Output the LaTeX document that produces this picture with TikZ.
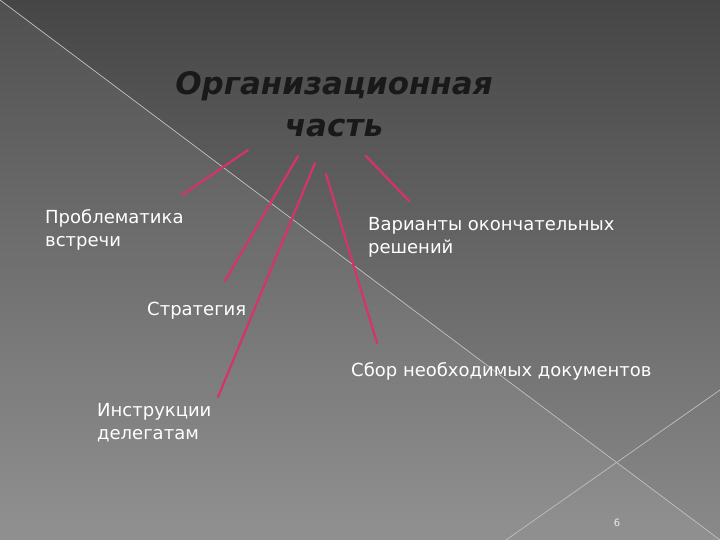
\documentclass[tikz,border=0pt]{standalone}
\usepackage{fontspec}
\setmainfont{DejaVu Sans}
\usetikzlibrary{positioning}
\definecolor{linkpink}{RGB}{214,50,110}
\definecolor{bgtop}{RGB}{70,70,70}
\definecolor{bgbottom}{RGB}{138,138,138}

\begin{document}
\begin{tikzpicture}[x=1pt,y=-1pt,
    item/.style={anchor=base west,inner sep=0pt,align=left,text=white,font=\fontsize{18}{23}\selectfont},
    link/.style={draw=linkpink,line width=2.2pt,line cap=round}]
  \useasboundingbox (0,0) rectangle (720,540);
  \shade[top color=bgtop,bottom color=bgbottom] (0,0) rectangle (720,540);
  \fill[white,opacity=0.06] (0,0) -- (720,540) -- (0,540) -- cycle;
  \draw[gray!50,line width=0.7pt] (0,0) -- (720,540);
  \draw[gray!50,line width=0.7pt] (720,390) -- (506,540);

  \node (title) [anchor=base,align=center,inner sep=0pt,text=black!90,
     font=\fontsize{31}{42}\selectfont\bfseries\itshape] at (334,137) {Организационная\\часть};

  \node (probl) [item] at (45,247) {Проблематика\\встречи};
  \node (varia) [item] at (368,253) {Варианты окончательных\\решений};
  \node (strat) [item] at (147,315) {Стратегия};
  \node (sbor)  [item] at (351,376) {Сбор необходимых документов};
  \node (instr) [item] at (97,439) {Инструкции\\делегатам};
  \node (page) [text=white!85!gray,font=\fontsize{10}{12}\selectfont] at (617,523) {6};

  \coordinate (s1) at (248,150); \coordinate (e1) at (182,195);
  \coordinate (s2) at (298,156); \coordinate (e2) at (225,281);
  \coordinate (s3) at (315,163); \coordinate (e3) at (218,397);
  \coordinate (s4) at (326,174); \coordinate (e4) at (377,343);
  \coordinate (s5) at (366,156); \coordinate (e5) at (409,201);
  \draw[link] (s1) -- (e1);
  \draw[link] (s2) -- (e2);
  \draw[link] (s3) -- (e3);
  \draw[link] (s4) -- (e4);
  \draw[link] (s5) -- (e5);
\end{tikzpicture}
\end{document}
